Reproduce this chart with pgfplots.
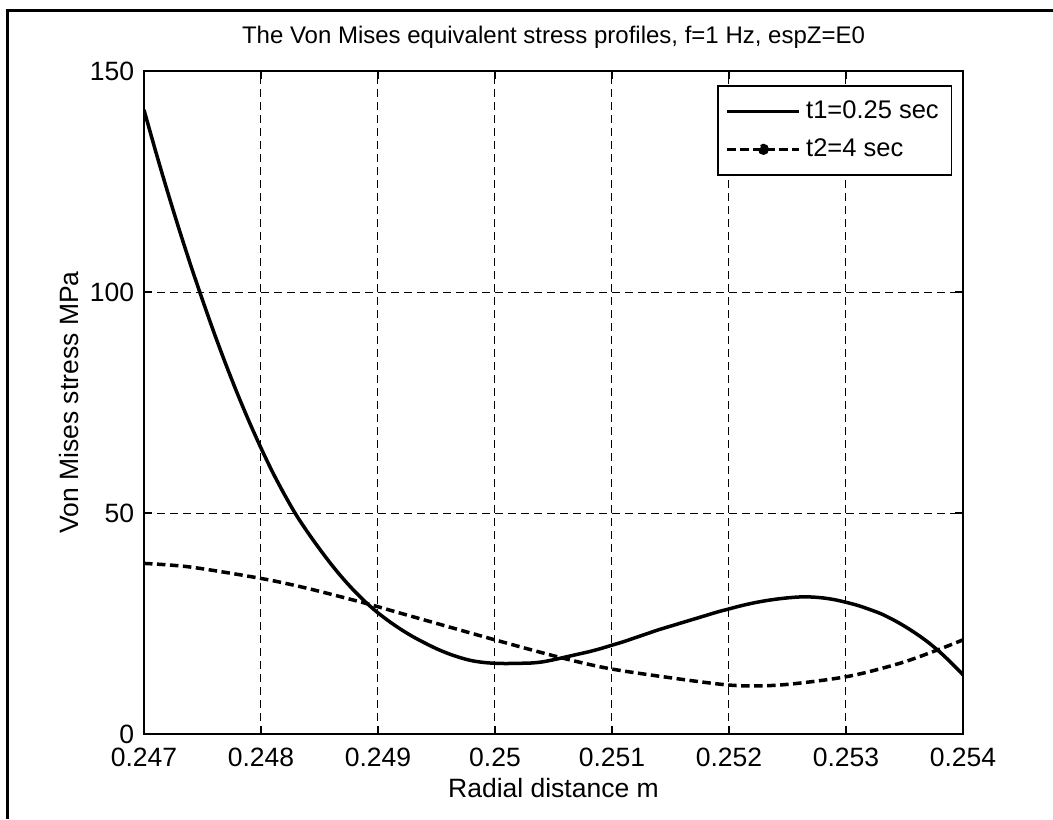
\documentclass[border=0pt]{standalone}
\usepackage{fontspec}
\setmainfont{Liberation Sans}
\usepackage{pgfplots}
\pgfplotsset{compat=1.18}

\begin{document}
\begin{tikzpicture}
% canvas 1053 x 819 px at 0.4pt per px
\useasboundingbox (0,0) rectangle (421.2pt,-327.6pt);
% figure frame (left and top edges)
\draw[line width=1.2pt] (2.8pt,-327.6pt) |- (421.2pt,-4pt);

\begin{axis}[
  at={(57.6pt,-293.6pt)}, anchor=south west,
  scale only axis,
  width=327.6pt, height=265.2pt,
  xmin=0.247, xmax=0.254, ymin=0, ymax=150,
  xtick={0.247,0.248,0.249,0.25,0.251,0.252,0.253,0.254},
  xticklabels={0.247,0.248,0.249,0.25,0.251,0.252,0.253,0.254},
  ytick={0,50,100,150},
  scaled x ticks=false,
  tick align=inside,
  major tick length=3.2pt,
  xtick pos=both, ytick pos=both,
  axis line style={line width=0.6pt},
  tick style={line width=0.5pt, black},
  grid=major,
  major grid style={line width=0.4pt, black, dash pattern=on 3.2pt off 2pt},
  /pgf/number format/assume math mode=true,
  tick label style={font=\fontsize{10.6}{12}\selectfont},
  xticklabel style={yshift=-2pt},
  yticklabel style={xshift=-0.4pt},
  label style={font=\fontsize{10.6}{12}\selectfont},
  xlabel={Radial distance m},
  ylabel={Von Mises stress MPa},
  xlabel style={yshift=2.2pt},
  ylabel style={yshift=-2.5pt},
  title={The Von Mises equivalent stress profiles, f=1 Hz, espZ=E0},
  title style={font=\fontsize{9.6}{11}\selectfont, yshift=-0.5pt},
  legend style={draw=black, line width=0.6pt, fill=white,
    font=\fontsize{10.2}{12}\selectfont,
    at={(0.9866,0.9789)}, anchor=north east,
    inner xsep=3pt, inner ysep=4pt,
    row sep=2.5pt},
  legend cell align=left,
]
% stress profile at t1
\addplot[black, line width=1.4pt, smooth, tension=0.5,
  legend image code/.code={\draw[black, line width=1.4pt] (0pt,0pt) -- (28.8pt,0pt);}]
coordinates {
(0.2470,141.2) (0.2471,131.8) (0.2472,122.8) (0.2473,114.2)
(0.2474,106.0) (0.2475,98.2) (0.2476,90.7) (0.2477,83.6)
(0.2478,76.9) (0.2479,70.6) (0.2480,64.7) (0.2481,59.2)
(0.2482,54.2) (0.2483,49.6) (0.2484,45.6) (0.2485,41.9)
(0.2486,38.4) (0.2487,35.2) (0.2488,32.3) (0.2489,29.7)
(0.2490,27.4) (0.2491,25.4) (0.2492,23.6) (0.2493,22.0)
(0.2494,20.6) (0.2495,19.3) (0.2496,18.2) (0.2497,17.3)
(0.2498,16.6) (0.2499,16.2) (0.2500,16.0) (0.2501,15.95)
(0.2502,16.0) (0.2503,16.05) (0.2504,16.3) (0.2505,16.8)
(0.2506,17.4) (0.2507,18.0) (0.2508,18.6) (0.2509,19.3)
(0.2510,20.1) (0.2511,20.9) (0.2512,21.8) (0.2513,22.7)
(0.2514,23.6) (0.2515,24.4) (0.2516,25.2) (0.2517,26.0)
(0.2518,26.8) (0.2519,27.6) (0.2520,28.3) (0.2521,29.0)
(0.2522,29.6) (0.2523,30.1) (0.2524,30.5) (0.2525,30.8)
(0.2526,31.0) (0.2527,31.0) (0.2528,30.8) (0.2529,30.4)
(0.2530,29.8) (0.2531,29.1) (0.2532,28.2) (0.2533,27.2)
(0.2534,25.9) (0.2535,24.4) (0.2536,22.7) (0.2537,20.8)
(0.2538,18.6) (0.2539,16.1) (0.2540,13.4)
};
\addlegendentry{t1=0.25 sec}

% stress profile at t2
\addplot[black, line width=1.4pt, dash pattern=on 3.4pt off 1.8pt, smooth, tension=0.5,
  legend image code/.code={
    \draw[black, line width=1.4pt, dash pattern=on 3.4pt off 1.8pt] (0pt,0pt) -- (28.8pt,0pt);
    \fill[black] (14.4pt,0pt) circle (1.5pt);}]
coordinates {
(0.24700,38.6) (0.24739,37.8) (0.24800,35.2) (0.24839,33.0)
(0.24889,29.6) (0.24925,26.9) (0.25000,21.3) (0.25053,17.5)
(0.25090,15.2) (0.25124,13.7) (0.25199,11.1) (0.25244,11.1)
(0.25301,13.0) (0.25346,16.0) (0.25378,19.0) (0.25400,21.3)
};
\addlegendentry{t2=4 sec}
\end{axis}
\end{tikzpicture}
\end{document}
